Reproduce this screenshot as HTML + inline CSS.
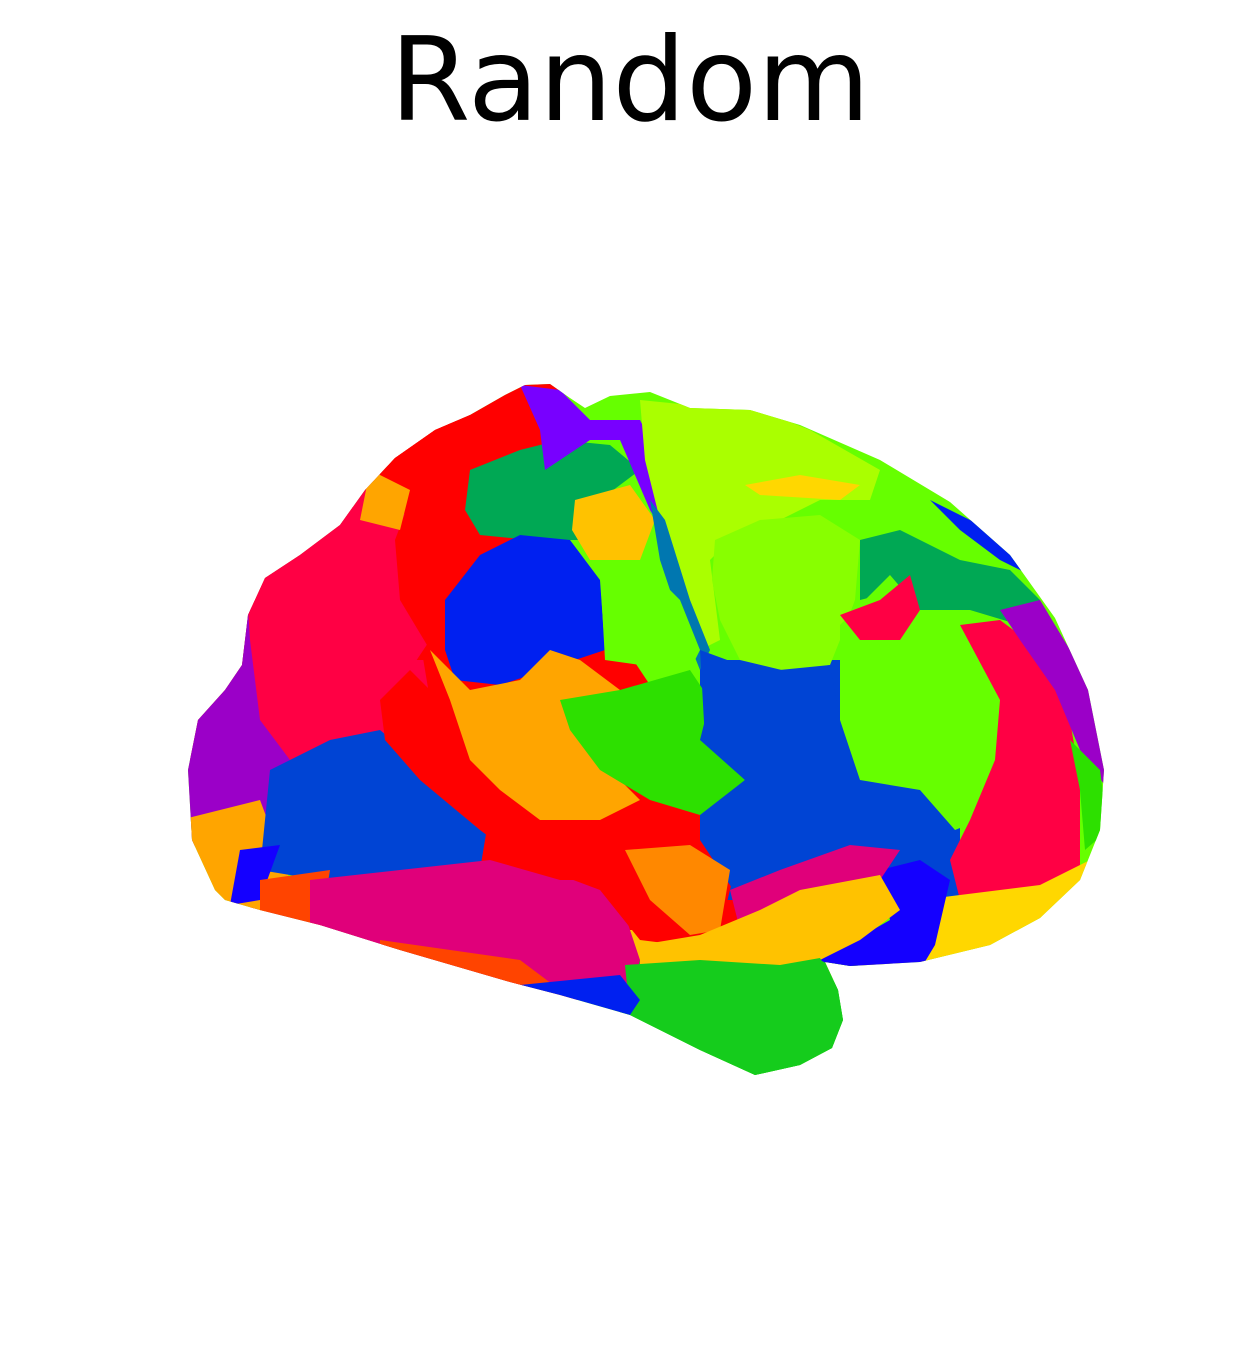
<!DOCTYPE html>
<html><head><meta charset="utf-8"><style>
html,body{margin:0;padding:0;background:#fff;}
svg{display:block;}
</style></head><body>
<svg width="1259" height="1372" viewBox="0 0 1259 1372">
<text x="630" y="120" text-anchor="middle" font-family="DejaVu Sans, Liberation Sans, sans-serif" font-size="116" fill="#000">Random</text>
<defs>
<clipPath id="brain">
<path d="M215,890 L192,840 L188,770 L198,720 L225,690 L242,665 L248,615 L265,578 L300,555 L340,525 L365,490 L395,458 L435,430 L470,415 L505,395 L525,385 L550,384 L570,398 L585,408 L610,396 L650,392 L690,408 L750,410 L800,425 L880,460 L950,502 L1010,555 L1055,618 L1088,690 L1104,770 L1100,830 L1080,880 L1040,918 L990,945 L920,962 L850,966 L825,962 L838,990 L843,1020 L832,1048 L800,1065 L755,1075 L700,1050 L630,1015 L560,995 L510,982 L400,950 L320,925 L260,910 L225,900 Z"/>
</clipPath>
</defs>
<g clip-path="url(#brain)">
<rect x="180" y="370" width="940" height="720" fill="#66ff00"/>
<path d="M180,370 L470,370 L470,760 L180,760 Z" fill="#ff0044"/>
<path d="M380,370 L560,370 L560,560 L440,660 L380,660 Z" fill="#ff0000"/>
<path d="M420,640 L620,640 L760,850 L740,960 L600,960 L460,880 Z" fill="#ff0000"/>
<path d="M250,880 L620,880 L640,1000 L250,1000 Z" fill="#e0007a"/>
<path d="M620,930 L900,930 L900,980 L620,980 Z" fill="#ffc200"/>
<path d="M700,660 L960,660 L960,900 L700,900 Z" fill="#0044d4"/>
<path d="M620,960 L860,960 L860,1090 L620,1090 Z" fill="#15cc1c"/>
<path d="M180,600 L280,610 L300,760 L260,830 L180,850 Z" fill="#9b00c8"/>
<path d="M180,820 L260,800 L290,880 L260,920 L180,920 Z" fill="#ffa500"/>
<path d="M245,560 L320,520 L370,500 L420,520 L430,640 L390,700 L360,750 L290,760 L260,720 L250,640 Z" fill="#ff0044"/>
<path d="M270,770 L330,740 L380,730 L440,780 L490,810 L480,870 L400,885 L320,880 L260,870 Z" fill="#0044d4"/>
<path d="M240,850 L280,845 L260,900 L230,905 Z" fill="#1400ff"/>
<path d="M260,880 L330,870 L320,930 L260,920 Z" fill="#ff4400"/>
<path d="M310,880 L400,870 L490,860 L560,880 L620,900 L640,960 L630,1000 L520,985 L400,950 L310,925 Z" fill="#e0007a"/>
<path d="M380,940 L520,960 L560,990 L500,985 L380,950 Z" fill="#ff4400"/>
<path d="M390,460 L440,425 L500,410 L540,420 L520,460 L480,470 L465,520 L500,545 L460,560 L445,640 L430,650 L400,600 L395,540 L410,500 Z" fill="#ff0000"/>
<path d="M370,470 L410,490 L400,530 L360,520 Z" fill="#ffa500"/>
<path d="M380,700 L410,670 L440,700 L480,760 L560,800 L640,800 L700,830 L735,870 L720,930 L680,945 L640,940 L600,890 L520,860 L480,830 L420,780 L385,740 Z" fill="#ff0000"/>
<path d="M470,470 L520,450 L560,440 L610,445 L640,470 L600,500 L580,540 L530,540 L480,535 L465,510 Z" fill="#00a854"/>
<path d="M575,500 L630,485 L655,520 L640,560 L590,560 L572,530 Z" fill="#ffc200"/>
<path d="M445,600 L480,555 L520,535 L570,540 L600,580 L605,650 L560,665 L500,685 L455,680 L445,650 Z" fill="#0020f0"/>
<path d="M430,650 L470,690 L520,680 L550,650 L580,660 L620,690 L600,760 L640,800 L600,820 L540,820 L500,790 L470,760 L450,700 Z" fill="#ffa500"/>
<path d="M560,700 L620,690 L690,670 L710,700 L700,740 L745,780 L700,815 L650,800 L600,770 L570,730 Z" fill="#2de000"/>
<path d="M520,385 L560,390 L590,420 L640,420 L665,470 L690,540 L680,560 L650,510 L620,440 L590,440 L545,470 L540,430 Z" fill="#7800ff"/>
<path d="M640,400 L690,405 L760,410 L810,430 L880,470 L870,500 L820,500 L780,520 L740,530 L710,560 L720,640 L700,650 L680,600 L660,520 L645,460 Z" fill="#aaff00"/>
<path d="M745,485 L800,475 L860,485 L840,500 L760,495 Z" fill="#ffd700"/>
<path d="M715,540 L760,520 L820,515 L860,540 L855,600 L840,640 L830,665 L790,672 L740,660 L720,620 L712,580 Z" fill="#88ff00"/>
<path d="M650,500 L665,520 L690,600 L710,650 L700,670 L680,620 L660,560 Z" fill="#0077b0"/>
<path d="M600,570 L640,560 L680,600 L700,650 L690,670 L640,665 L605,660 Z" fill="#66ff00"/>
<path d="M700,650 L760,672 L830,665 L840,720 L860,780 L920,790 L955,830 L950,880 L900,870 L850,840 L780,870 L740,900 L700,840 L700,820 L745,780 L705,740 Z" fill="#0044d4"/>
<path d="M860,540 L900,530 L960,560 L1010,570 L1040,600 L1020,625 L970,610 L920,610 L900,590 L860,600 Z" fill="#00a854"/>
<path d="M930,500 L990,530 L1030,575 L1000,560 L960,530 Z" fill="#0020f0"/>
<path d="M840,625 L890,575 L920,610 L960,625 L1000,670 L1000,720 L990,760 L980,820 L955,830 L920,790 L860,780 L840,720 Z" fill="#66ff00"/>
<path d="M840,615 L880,600 L910,575 L920,610 L900,640 L860,640 Z" fill="#ff0044"/>
<path d="M960,625 L1000,620 L1040,650 L1070,720 L1080,780 L1080,870 L1040,890 L960,900 L950,860 L970,820 L995,760 L1000,700 Z" fill="#ff0044"/>
<path d="M1000,610 L1040,600 L1070,650 L1100,700 L1108,790 L1080,750 L1055,690 L1020,640 Z" fill="#9b00c8"/>
<path d="M1070,740 L1100,770 L1108,830 L1085,850 L1080,790 Z" fill="#2de000"/>
<path d="M920,900 L960,895 L1040,885 L1090,860 L1080,920 L1000,960 L920,970 Z" fill="#ffd700"/>
<path d="M880,870 L920,860 L950,880 L935,945 L920,970 L840,970 L820,960 L890,920 Z" fill="#1400ff"/>
<path d="M730,890 L780,870 L850,845 L900,850 L880,880 L800,920 L740,930 Z" fill="#e0007a"/>
<path d="M625,850 L690,845 L730,870 L720,930 L690,935 L650,900 Z" fill="#ff8800"/>
<path d="M640,945 L700,935 L760,910 L800,890 L880,875 L900,910 L860,940 L820,960 L780,970 L720,965 L640,970 Z" fill="#ffc200"/>
<path d="M625,965 L700,960 L780,965 L820,958 L845,1000 L840,1060 L760,1080 L700,1055 L630,1015 Z" fill="#15cc1c"/>
<path d="M520,985 L620,975 L640,1000 L630,1015 L560,995 Z" fill="#0020f0"/>
</g>
</svg>
</body></html>
